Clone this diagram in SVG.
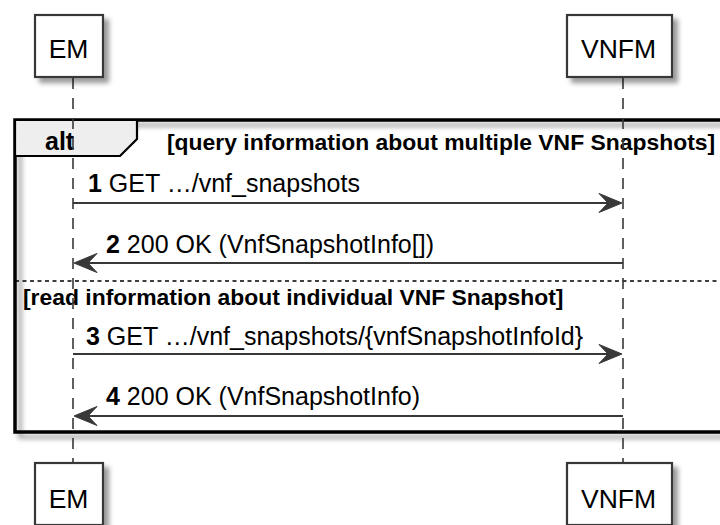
<svg xmlns="http://www.w3.org/2000/svg" width="720" height="525" viewBox="0 0 720 525">
<defs>
  <filter id="shadow" x="-20%" y="-20%" width="150%" height="150%">
    <feGaussianBlur in="SourceAlpha" stdDeviation="2.5" result="b"/>
    <feOffset in="b" dx="5" dy="5" result="o"/>
    <feComponentTransfer in="o" result="s"><feFuncA type="linear" slope="0.4"/></feComponentTransfer>
    <feMerge><feMergeNode in="s"/><feMergeNode in="SourceGraphic"/></feMerge>
  </filter>
  <style>
    .box { fill: #ffffff; stroke: #383838; stroke-width: 2.2; }
    .ptext { font-family: "Liberation Sans", Arial, sans-serif; font-size: 26.5px; fill: #000; text-anchor: middle; }
    .life { stroke: #383838; stroke-width: 1.6; stroke-dasharray: 11 9; fill: none; }
    .msg { stroke: #383838; stroke-width: 2; fill: none; }
    .head { fill: #383838; stroke: #383838; stroke-width: 1; }
    .mtext { font-family: "Liberation Sans", Arial, sans-serif; font-size: 25px; fill: #000; }
    .gtext { font-family: "Liberation Sans", Arial, sans-serif; font-weight: bold; fill: #000; }
    .frame { fill: none; stroke: #000; stroke-width: 3.5; }
    .tab { fill: #eeeeee; stroke: #000; stroke-width: 2.2; }
    .sep { stroke: #000; stroke-width: 1.6; stroke-dasharray: 4 3.5; }
  </style>
</defs>
<rect x="0" y="0" width="720" height="525" fill="#ffffff"/>

<g id="alt-frame">
  <rect class="frame" x="15" y="120" width="725" height="312" filter="url(#shadow)"/>
  <path class="tab" d="M15,120 H137 V139 L120,156 H15 Z"/>
  <text class="gtext" x="45" y="150" font-size="25">alt</text>
  <text class="gtext" x="167" y="150" font-size="22.9">[query information about multiple VNF Snapshots]</text>
  <line class="sep" x1="15" y1="281" x2="720" y2="281"/>
  <text class="gtext" x="23" y="305" font-size="22.9">[read information about individual VNF Snapshot]</text>
</g>

<g id="lifelines">
  <line class="life" x1="73" y1="78" x2="73" y2="463"/>
  <line class="life" x1="623" y1="78" x2="623" y2="463"/>
</g>

<g id="EM">
  <rect class="box" x="35" y="15" width="68" height="62" filter="url(#shadow)"/>
  <text class="ptext" x="68.5" y="58">EM</text>
</g>
<g id="VNFM">
  <rect class="box" x="567" y="15" width="105" height="62" filter="url(#shadow)"/>
  <text class="ptext" x="618.5" y="58">VNFM</text>
</g>
<g id="EM-bottom">
  <rect class="box" x="35" y="463" width="68" height="62" filter="url(#shadow)"/>
  <text class="ptext" x="68.5" y="508">EM</text>
</g>
<g id="VNFM-bottom">
  <rect class="box" x="567" y="463" width="105" height="62" filter="url(#shadow)"/>
  <text class="ptext" x="618.5" y="508">VNFM</text>
</g>

<g id="connectors">
  <line class="msg" x1="73" y1="203" x2="618" y2="203"/>
  <polygon class="head" points="622,203 599,193.5 608,203 599,212.5"/>
  <text class="mtext" x="88" y="192"><tspan font-weight="bold">1</tspan> GET …/vnf_snapshots</text>

  <line class="msg" x1="623" y1="263" x2="78" y2="263"/>
  <polygon class="head" points="74,263 97,253.5 88,263 97,272.5"/>
  <text class="mtext" x="106" y="253"><tspan font-weight="bold">2</tspan> 200 OK (VnfSnapshotInfo[])</text>

  <line class="msg" x1="73" y1="354" x2="618" y2="354"/>
  <polygon class="head" points="622,354 599,344.5 608,354 599,363.5"/>
  <text class="mtext" x="86" y="345"><tspan font-weight="bold">3</tspan> GET …/vnf_snapshots/{vnfSnapshotInfoId}</text>

  <line class="msg" x1="623" y1="416" x2="78" y2="416"/>
  <polygon class="head" points="74,416 97,406.5 88,416 97,425.5"/>
  <text class="mtext" x="106" y="405"><tspan font-weight="bold">4</tspan> 200 OK (VnfSnapshotInfo)</text>
</g>
</svg>
